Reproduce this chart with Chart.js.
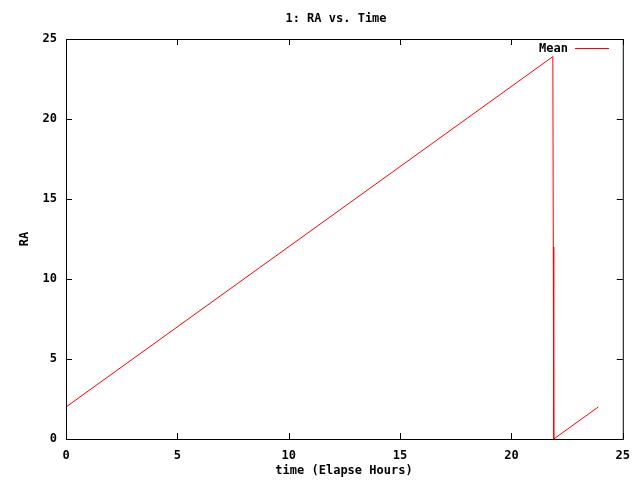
<!DOCTYPE html>
<html>
<head>
<meta charset="utf-8">
<script src="https://cdn.jsdelivr.net/npm/chart.js@4/dist/chart.umd.min.js"></script>
<style>
  html, body { margin: 0; padding: 0; background: #fff; }
  #wrap { width: 640px; height: 480px; }
</style>
</head>
<body>
<div id="wrap"><canvas id="c" width="640" height="480"></canvas></div>
<script>
// values
const timeHours = [0, 21.86, 21.88, 21.9, 23.9];
const raMean = [2.0, 23.9, 12.0, 0.0, 2.0];
const xTicks = [0, 5, 10, 15, 20, 25];
const yTicks = [0, 5, 10, 15, 20, 25];

const FONT = 'bold 12px "DejaVu Sans Mono", "Liberation Mono", monospace';

// box border, inward ticks (mirrored), titles and legend like gnuplot
const gnuplotFrame = {
    id: 'gnuplotFrame',
    afterDraw(chart) {
        const ctx = chart.ctx;
        const a = chart.chartArea;
        const xs = chart.scales.x, ys = chart.scales.y;
        ctx.save();
        ctx.strokeStyle = '#000';
        ctx.lineWidth = 1;
        ctx.strokeRect(a.left + 0.5, a.top + 0.5, a.right - a.left, a.bottom - a.top);
        ctx.beginPath();
        xTicks.forEach(v => {
            const px = Math.round(xs.getPixelForValue(v)) + 0.5;
            ctx.moveTo(px, a.bottom); ctx.lineTo(px, a.bottom - 6);
            ctx.moveTo(px, a.top); ctx.lineTo(px, a.top + 6);
        });
        yTicks.forEach(v => {
            const py = Math.round(ys.getPixelForValue(v)) + 0.5;
            ctx.moveTo(a.left, py); ctx.lineTo(a.left + 6, py);
            ctx.moveTo(a.right, py); ctx.lineTo(a.right - 6, py);
        });
        ctx.stroke();

        ctx.fillStyle = '#000';
        ctx.font = FONT;
        ctx.textBaseline = 'middle';
        ctx.textAlign = 'center';
        ctx.fillText('1: RA vs. Time', 336, 19);
        ctx.fillText('time (Elapse Hours)', 344, 471);
        ctx.save();
        ctx.translate(25, 239);
        ctx.rotate(-Math.PI / 2);
        ctx.fillText('RA', 0, 0);
        ctx.restore();

        // legend
        const ds = chart.data.datasets[0];
        ctx.textAlign = 'right';
        ctx.fillText(ds.label, 568, 49);
        ctx.strokeStyle = ds.borderColor;
        ctx.beginPath();
        ctx.moveTo(575, 48.5); ctx.lineTo(609, 48.5);
        ctx.stroke();
        ctx.restore();
    }
};

new Chart(document.getElementById('c').getContext('2d'), {
    type: 'line',
    data: {
        datasets: [{
            label: 'Mean',
            data: timeHours.map((t, i) => ({ x: t, y: raMean[i] })),
            borderColor: '#ff0000',
            borderWidth: 1,
            pointRadius: 0,
            tension: 0,
            fill: false
        }]
    },
    options: {
        responsive: false,
        animation: false,
        layout: { padding: { left: 0, right: 16, top: 39, bottom: 0 } },
        plugins: { legend: { display: false }, tooltip: { enabled: false } },
        scales: {
            x: {
                type: 'linear',
                min: 0, max: 25,
                afterBuildTicks: s => { s.ticks = xTicks.map(v => ({ value: v })); },
                afterFit: s => { s.height = 41; },
                grid: { display: false, drawTicks: false },
                border: { display: false },
                ticks: { color: '#000', font: { family: '"DejaVu Sans Mono"', size: 12, weight: 'bold' }, padding: 10, maxRotation: 0 }
            },
            y: {
                type: 'linear',
                min: 0, max: 25,
                afterBuildTicks: s => { s.ticks = yTicks.map(v => ({ value: v })); },
                afterFit: s => { s.width = 66; },
                grid: { display: false, drawTicks: false },
                border: { display: false },
                ticks: { color: '#000', font: { family: '"DejaVu Sans Mono"', size: 12, weight: 'bold' }, padding: 9 }
            }
        }
    },
    plugins: [gnuplotFrame]
});
</script>
</body>
</html>
